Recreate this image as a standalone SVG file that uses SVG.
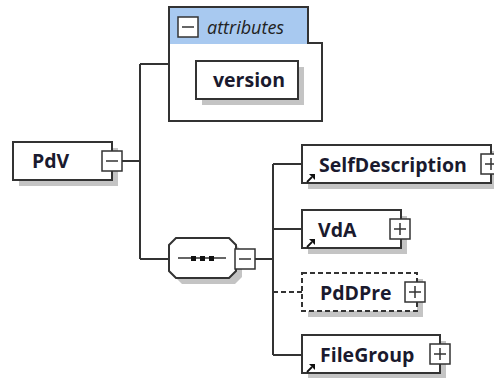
<svg xmlns="http://www.w3.org/2000/svg" width="494" height="378" viewBox="0 0 494 378">
<style>
.box{fill:#fff;stroke:#333;stroke-width:2}
.dash{fill:#fff;stroke:#333;stroke-width:2;stroke-dasharray:5,3}
.sh{fill:#c4c4c4}
.ln{fill:none;stroke:#333;stroke-width:2}
.lnd{fill:none;stroke:#333;stroke-width:2;stroke-dasharray:5,3}
.ic{fill:#fff;stroke:#333;stroke-width:1.5}
.icl{stroke:#333;stroke-width:1.5}
.t{font-family:"Open Sans","DejaVu Sans",sans-serif;font-weight:bold;font-size:19.5px;fill:#1a1a2e}
.ti{font-family:"Open Sans","DejaVu Sans",sans-serif;font-style:italic;font-size:18px;fill:#222}
</style>
<defs>
<g id="plus"><rect class="ic" x="0" y="0" width="20" height="20"/><path class="icl" d="M4,10H16M10,4V16"/></g>
<g id="minus"><rect class="ic" x="0" y="0" width="20" height="20"/><path class="icl" d="M4,10H16"/></g>
<g id="ref"><path d="M1,9L6,4" stroke="#111" stroke-width="1.8"/><polygon points="3,1 9,1 9,7" fill="#111"/></g>
</defs>

<g id="connectors">
<path class="ln" d="M122,161H140M140,64V259M140,64H169M140,259H169"/>
<path class="ln" d="M255,259H273M273,164V355M273,164H302M273,229H302M273,355H302"/>
<path class="lnd" d="M273,292H302"/>
</g>

<g id="attributes">
<polygon points="169,7 308,7 308,43 322,43 322,121 169,121" fill="#fff"/>
<rect x="169" y="7" width="139" height="37" fill="#a8c9f0"/>
<polygon class="ln" points="169,7 308,7 308,43 322,43 322,121 169,121"/>
<use href="#minus" x="178" y="17"/>
<text class="ti" x="207" y="34">attributes</text>
</g>

<g id="version">
<rect class="sh" x="202" y="67" width="102" height="38"/>
<rect class="box" x="196" y="61" width="102" height="38"/>
<text class="t" x="213" y="87">version</text>
</g>

<g id="PdV">
<rect class="sh" x="19" y="148" width="99" height="38"/>
<rect class="box" x="13" y="142" width="99" height="38"/>
<text class="t" x="32" y="168">PdV</text>
<use href="#minus" x="102" y="151"/>
</g>

<g id="sequence">
<polygon class="sh" points="175,251 182,244 235,244 242,251 242,277 235,284 182,284 175,277"/>
<polygon class="box" points="169,245 176,238 229,238 236,245 236,271 229,278 176,278 169,271"/>
<path class="icl" d="M178,258H226" stroke-width="2"/>
<rect x="191" y="256" width="5" height="5" fill="#111"/>
<rect x="200" y="256" width="5" height="5" fill="#111"/>
<rect x="209" y="256" width="5" height="5" fill="#111"/>
<use href="#minus" x="235" y="249"/>
</g>

<g id="SelfDescription">
<rect class="sh" x="308" y="151" width="189" height="38"/>
<rect class="box" x="302" y="145" width="189" height="38"/>
<text class="t" x="319" y="172">SelfDescription</text>
<use href="#ref" x="306" y="173"/>
<use href="#plus" x="481" y="154"/>
</g>

<g id="VdA">
<rect class="sh" x="308" y="216" width="99" height="38"/>
<rect class="box" x="302" y="210" width="99" height="38"/>
<text class="t" x="318" y="237">VdA</text>
<use href="#ref" x="306" y="238"/>
<use href="#plus" x="390" y="219"/>
</g>

<g id="PdDPre">
<rect class="sh" x="308" y="279" width="115" height="38"/>
<rect class="dash" x="302" y="273" width="115" height="38"/>
<text class="t" x="320" y="300">PdDPre</text>
<use href="#plus" x="405" y="282"/>
</g>

<g id="FileGroup">
<rect class="sh" x="308" y="341" width="138" height="38"/>
<rect class="box" x="302" y="335" width="138" height="38"/>
<text class="t" x="320" y="362">FileGroup</text>
<use href="#ref" x="306" y="363"/>
<use href="#plus" x="430" y="344"/>
</g>
</svg>
